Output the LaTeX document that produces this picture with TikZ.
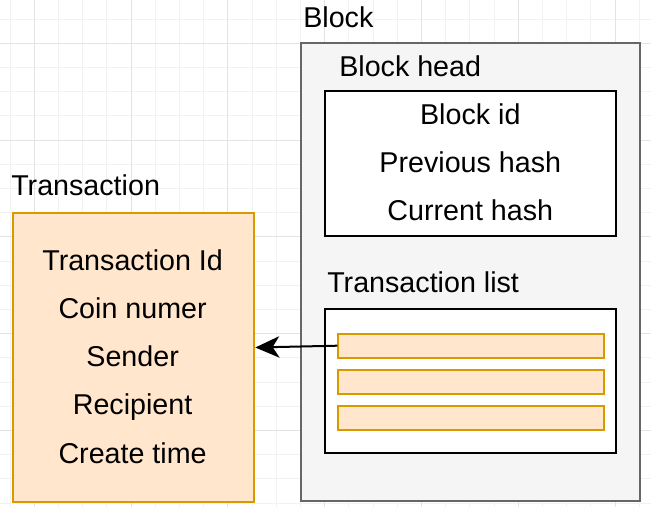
\documentclass[tikz,border=0pt]{standalone}
\usepackage{fontspec}
\setmainfont{Liberation Sans}
\usepackage{xcolor}
\usepackage{tikz}
\usetikzlibrary{arrows.meta,calc}

\definecolor{txfill}{HTML}{FFE6CC}
\definecolor{txline}{HTML}{D79B00}
\definecolor{blockfill}{HTML}{F5F5F5}
\definecolor{blockline}{HTML}{666666}
\definecolor{gridminor}{HTML}{F2F2F2}
\definecolor{gridmajor}{HTML}{E3E3E3}

\tikzset{
	txt/.style={inner sep=0pt,font=\fontsize{21.5}{26}\selectfont},
	txbox/.style={draw=txline,fill=txfill,line width=1.5pt,inner sep=0pt},
	blockbox/.style={draw=blockline,fill=blockfill,line width=1.5pt,inner sep=0pt},
	plainbox/.style={draw=black,fill=white,line width=1.5pt,inner sep=0pt}
}

\begin{document}
\begin{tikzpicture}[x=0.75pt,y=-0.75pt]
	\useasboundingbox (0,0) rectangle (651,507);
	\fill[white] (0,0) rectangle (651,507);

	% grid
	\foreach \k in {0,1,...,26}{
		\draw[gridminor,line width=0.75pt] (10.1+24.2*\k,0)--(10.1+24.2*\k,507);
	}
	\foreach \k in {0,1,...,20}{
		\draw[gridminor,line width=0.75pt] (0,19.1+24.2*\k)--(651,19.1+24.2*\k);
	}
	\foreach \k in {0,1,...,6}{
		\draw[gridmajor,line width=0.75pt] (34.3+96.8*\k,0)--(34.3+96.8*\k,507);
	}
	\foreach \k in {0,1,...,4}{
		\draw[gridmajor,line width=0.75pt] (0,43.3+96.8*\k)--(651,43.3+96.8*\k);
	}

	% block
	\node[txt,anchor=base west] (blocklbl) at (303,27.5) {Block};
	\draw[blockbox] (301,42.5) rectangle (639.5,501.3);

	\node[txt,anchor=base west] (headlbl) at (339,76.5) {Block head};
	\draw[plainbox] (325,91) rectangle (615.5,236);
	\foreach \t [count=\i] in {Block id,Previous hash,Current hash}{
		\node[txt,anchor=base] (head\i) at (470.3,{124.8+47.6*(\i-1)}) {\t};
	}

	\node[txt,anchor=base west] (listlbl) at (327,292.5) {Transaction list};
	\draw[plainbox] (325.3,308.7) rectangle (615.5,453.3);
	\foreach \i in {1,2,3}{
		\node[txbox,minimum width=266pt*0.75,minimum height=24pt*0.75,anchor=north west] (bar\i) at (337.3,{332.7+36.2*(\i-1)}) {};
	}

	% transaction
	\node[txt,anchor=base west] (txlbl) at (11,195.5) {Transaction};
	\node[txbox,minimum width=241.5pt*0.75,minimum height=289pt*0.75,anchor=north west] (tx) at (11.8,212) {};
	\foreach \t [count=\i] in {Transaction Id,Coin numer,Sender,Recipient,Create time}{
		\node[txt,anchor=base] (field\i) at (132.6,{270+48.3*(\i-1)}) {\t};
	}

	\draw[line width=1.5pt,-{Stealth[length=18pt,width=16pt,inset=5pt]}] (bar1.west) -- ([yshift=7.5pt]tx.east);
\end{tikzpicture}
\end{document}
